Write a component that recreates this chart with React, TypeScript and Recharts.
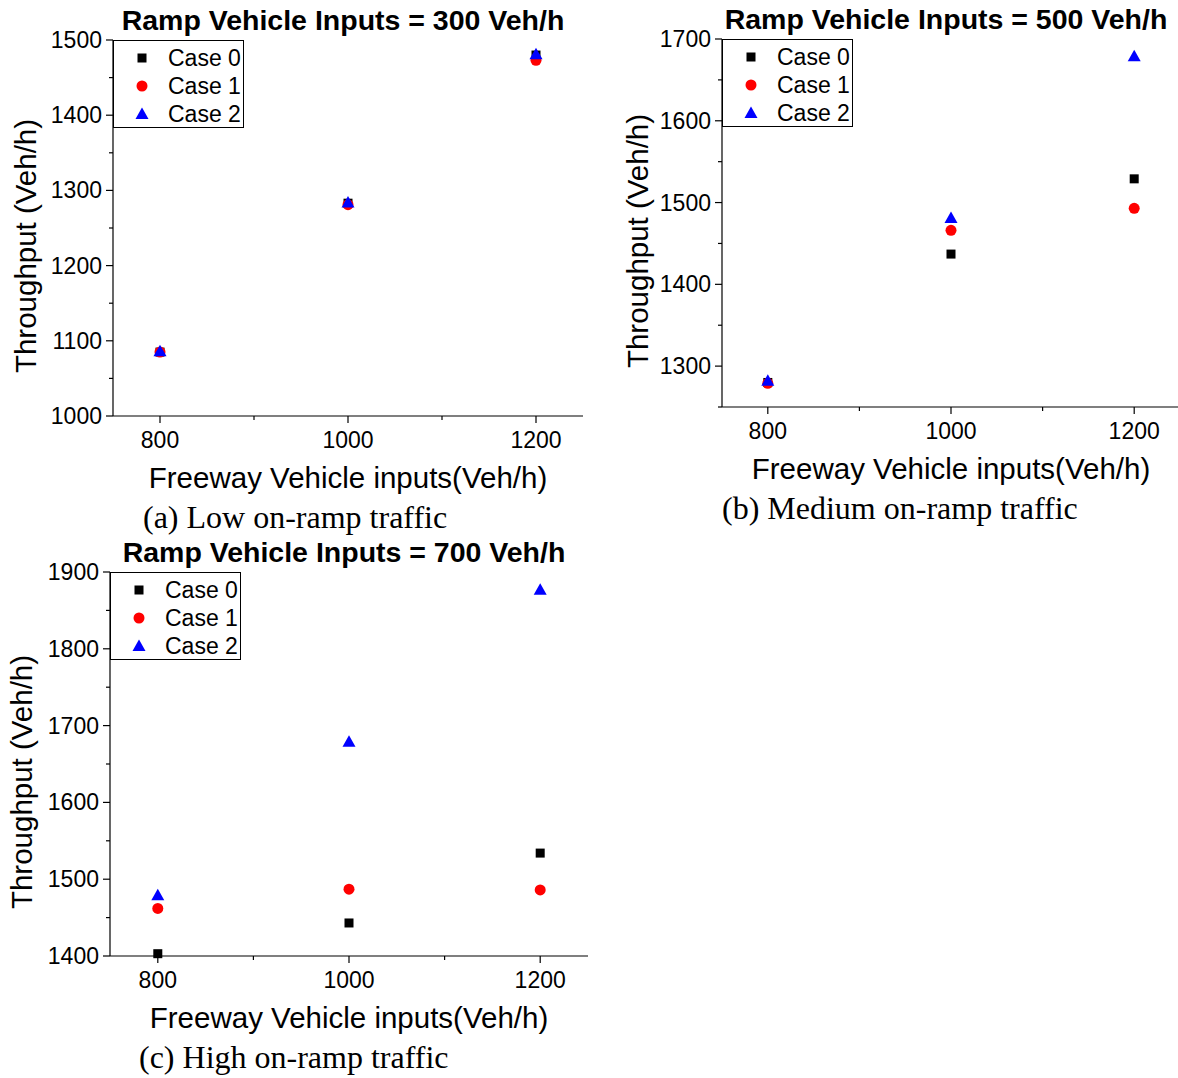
import React from 'react'
import { ScatterChart, Scatter, XAxis, YAxis, Legend, Label } from 'recharts'

// freeway inputs on the x axis, throughput
const freewayInputs = [800, 1000, 1200]
const xTicks = [800, 900, 1000, 1100, 1200]
const caseNames = ['Case 0', 'Case 1', 'Case 2']
const caseColors = ['#000000', '#ff0000', '#0000ff']

const lowCase0 = [1085, 1283, 1480]
const lowCase1 = [1085, 1281, 1473]
const lowCase2 = [1086, 1284, 1481]

const mediumCase0 = [1280, 1437, 1529]
const mediumCase1 = [1279, 1466, 1493]
const mediumCase2 = [1282, 1481, 1679]

const highCase0 = [1403, 1443, 1534]
const highCase1 = [1462, 1487, 1486]
const highCase2 = [1479, 1679, 1877]

const lowYTicks = [1000, 1050, 1100, 1150, 1200, 1250, 1300, 1350, 1400, 1450, 1500]
const mediumYTicks = [1250, 1300, 1350, 1400, 1450, 1500, 1550, 1600, 1650, 1700]
const highYTicks = [1400, 1450, 1500, 1550, 1600, 1650, 1700, 1750, 1800, 1850, 1900]

const SANS = '"Liberation Sans", Arial, sans-serif'
const SERIF = '"Liberation Serif", "Times New Roman", serif'

const toPoints = (ys: number[]) => freewayInputs.map((x, i) => ({ x, y: ys[i] }))

function Marker({ kind, cx, cy, color }: { kind: number; cx: number; cy: number; color: string }) {
  if (kind === 0) return <rect x={cx - 4.5} y={cy - 4.5} width={9} height={9} fill={color} />
  if (kind === 1) return <circle cx={cx} cy={cy} r={5.5} fill={color} />
  return <polygon points={`${cx},${cy - 6.5} ${cx + 6.5},${cy + 5} ${cx - 6.5},${cy + 5}`} fill={color} />
}

// ticks: long ones on labelled values, short ones between
const axisTick = (side: 'left' | 'right' | 'top' | 'bottom', majorEvery: number) => (props: any) => {
  const { x, y, payload } = props
  const v = payload.value
  const major = v % majorEvery === 0
  const len = major ? 7 : 4
  if (side === 'left') {
    return (
      <g>
        <line x1={x} x2={x - len} y1={y} y2={y} stroke="#000" strokeWidth={1.2} />
        {major && (
          <text x={x - 11} y={y} dy="0.35em" textAnchor="end" fontSize={23} fontFamily={SANS} fill="#000">{v}</text>
        )}
      </g>
    )
  }
  if (side === 'bottom') {
    return (
      <g>
        <line x1={x} x2={x} y1={y} y2={y + len} stroke="#000" strokeWidth={1.2} />
        {major && (
          <text x={x} y={y + 24} dy="0.35em" textAnchor="middle" fontSize={23} fontFamily={SANS} fill="#000">{v}</text>
        )}
      </g>
    )
  }
  if (side === 'right') {
    return <line x1={x} x2={x - len} y1={y} y2={y} stroke="#000" strokeWidth={1.2} />
  }
  return <line x1={x} x2={x} y1={y} y2={y + len} stroke="#000" strokeWidth={1.2} />
}

function LegendBox({ payload }: any) {
  return (
    <div style={{ position: 'relative', width: 131, height: 88, border: '1px solid #000', background: '#fff', boxSizing: 'border-box' }}>
      {(payload || []).map((entry: any, i: number) => (
        <div key={entry.value} style={{ position: 'absolute', left: 0, top: 3 + i * 28, height: 28, display: 'flex', alignItems: 'center' }}>
          <svg width={54} height={28}>
            <Marker kind={i} cx={28} cy={14} color={caseColors[i]} />
          </svg>
          <span style={{ fontFamily: SANS, fontSize: 23, color: '#000', whiteSpace: 'nowrap' }}>{entry.value}</span>
        </div>
      ))}
    </div>
  )
}

interface PanelProps {
  left: number
  top: number
  width: number
  height: number
  plotTop: number
  plotLeft: number
  plotRight: number
  plotBottom: number
  yDomain: [number, number]
  yTicks: number[]
  series: number[][]
  title: string
  caption: string
  captionLeft: number
  yLabelX: number
}

function Panel(p: PanelProps) {
  const plotW = p.plotRight - p.plotLeft
  const plotH = p.plotBottom - p.plotTop
  const yMid = p.plotTop + plotH / 2 + 18
  return (
    <div style={{ position: 'absolute', left: p.left, top: p.top, width: p.width, height: p.height }}>
      <div style={{ position: 'absolute', left: p.plotLeft - 5, width: plotW, top: p.plotTop - 35, height: 30, lineHeight: '30px', textAlign: 'center', fontFamily: SANS, fontWeight: 'bold', fontSize: 28.5, color: '#000', whiteSpace: 'nowrap' }}>
        {p.title}
      </div>
      <ScatterChart
        width={p.width}
        height={p.height}
        margin={{ top: p.plotTop, right: p.width - p.plotRight, left: 0, bottom: 0 }}
      >
        <XAxis
          xAxisId={0}
          type="number"
          dataKey="x"
          domain={[750, 1250]}
          ticks={xTicks}
          interval={0}
          tickSize={0}
          tickMargin={0}
          tickLine={false}
          tick={axisTick('bottom', 200)}
          axisLine={{ stroke: '#000', strokeWidth: 1.2 }}
          height={p.height - p.plotBottom}
        >
          <Label value="Freeway Vehicle inputs(Veh/h)" position="insideTop" offset={51} fontSize={29.5} fontFamily={SANS} fill="#000" />
        </XAxis>
        <XAxis
          xAxisId="top"
          orientation="top"
          type="number"
          domain={[750, 1250]}
          ticks={xTicks}
          interval={0}
          tickSize={0}
          tickMargin={0}
          tickLine={false}
          tick={axisTick('top', 200)}
          axisLine={{ stroke: '#000', strokeWidth: 1.2 }}
          height={0}
        />
        <YAxis
          yAxisId={0}
          type="number"
          dataKey="y"
          domain={p.yDomain}
          ticks={p.yTicks}
          interval={0}
          tickSize={0}
          tickMargin={0}
          tickLine={false}
          tick={axisTick('left', 100)}
          axisLine={{ stroke: '#000', strokeWidth: 1.2 }}
          width={p.plotLeft}
        >
          <Label
            content={() => (
              <text
                x={p.yLabelX}
                y={yMid}
                transform={`rotate(-90, ${p.yLabelX}, ${yMid})`}
                textAnchor="middle"
                dominantBaseline="central"
                fontSize={29.5}
                fontFamily={SANS}
                fill="#000"
              >
                Throughput (Veh/h)
              </text>
            )}
          />
        </YAxis>
        <YAxis
          yAxisId="right"
          orientation="right"
          type="number"
          domain={p.yDomain}
          ticks={p.yTicks}
          interval={0}
          tickSize={0}
          tickMargin={0}
          tickLine={false}
          tick={axisTick('right', 100)}
          axisLine={{ stroke: '#000', strokeWidth: 1.2 }}
          width={0}
        />
        <Legend
          layout="vertical"
          align="center"
          verticalAlign="middle"
          wrapperStyle={{ left: p.plotLeft, top: p.plotTop, width: 'auto', height: 'auto' }}
          content={(props: any) => <LegendBox payload={props.payload} />}
        />
        {p.series.map((ys, i) => (
          <Scatter
            key={caseNames[i]}
            name={caseNames[i]}
            data={toPoints(ys)}
            fill={caseColors[i]}
            isAnimationActive={false}
            shape={(s: any) => <Marker kind={i} cx={s.cx} cy={s.cy} color={caseColors[i]} />}
          />
        ))}
      </ScatterChart>
      <div style={{ position: 'absolute', left: p.captionLeft, top: p.plotBottom + 85, lineHeight: '33px', fontFamily: SERIF, fontSize: 32, color: '#000', whiteSpace: 'nowrap' }}>
        {p.caption}
      </div>
    </div>
  )
}

export default function App() {
  return (
    <div style={{ position: 'absolute', left: 0, top: 0, width: 1178, height: 1078, overflow: 'hidden', background: '#fff' }}>
      <Panel
        left={0}
        top={0}
        width={600}
        height={545}
        plotTop={40}
        plotLeft={113}
        plotRight={583}
        plotBottom={416}
        yDomain={[1000, 1500]}
        yTicks={lowYTicks}
        series={[lowCase0, lowCase1, lowCase2]}
        title="Ramp Vehicle Inputs = 300 Veh/h"
        caption="(a) Low on-ramp traffic"
        captionLeft={143}
        yLabelX={25}
      />
      <Panel
        left={600}
        top={0}
        width={590}
        height={530}
        plotTop={39}
        plotLeft={122}
        plotRight={580}
        plotBottom={407}
        yDomain={[1250, 1700]}
        yTicks={mediumYTicks}
        series={[mediumCase0, mediumCase1, mediumCase2]}
        title="Ramp Vehicle Inputs = 500 Veh/h"
        caption="(b) Medium on-ramp traffic"
        captionLeft={122}
        yLabelX={37}
      />
      <Panel
        left={0}
        top={530}
        width={600}
        height={548}
        plotTop={42}
        plotLeft={110}
        plotRight={588}
        plotBottom={426}
        yDomain={[1400, 1900]}
        yTicks={highYTicks}
        series={[highCase0, highCase1, highCase2]}
        title="Ramp Vehicle Inputs = 700 Veh/h"
        caption="(c) High on-ramp traffic"
        captionLeft={139}
        yLabelX={21}
      />
    </div>
  )
}
